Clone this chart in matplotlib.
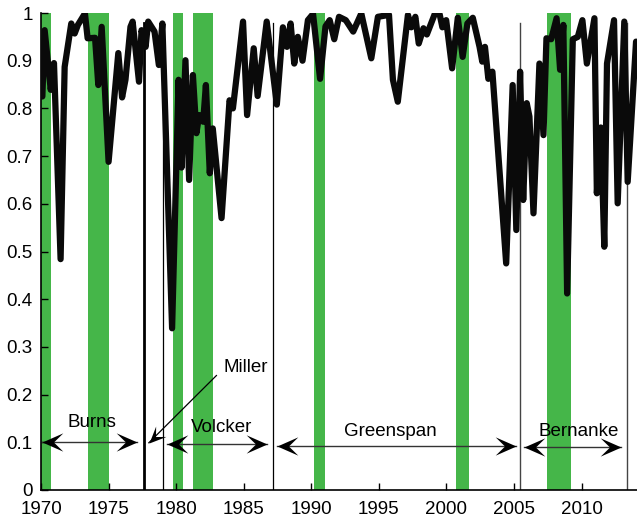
import numpy as np
import matplotlib
matplotlib.use("Agg")
import matplotlib.pyplot as plt
from matplotlib.path import Path
from matplotlib.markers import MarkerStyle
from matplotlib.transforms import Affine2D

plt.rcParams['font.family'] = ['Liberation Sans', 'DejaVu Sans']

# ---------------- data ----------------
years = [1970.00, 1970.10, 1970.27, 1970.72, 1970.96, 1971.45, 1971.75, 1972.24, 1972.49, 1972.73,
         1973.25, 1973.45, 1974.00, 1974.24, 1974.49, 1975.00, 1975.72, 1976.00, 1976.25, 1976.62,
         1976.78, 1977.25, 1977.44, 1977.74, 1977.93, 1978.40, 1978.72, 1978.98, 1979.70, 1980.18,
         1980.40, 1980.69, 1980.96, 1981.24, 1981.50, 1981.70, 1982.00, 1982.20, 1982.49, 1982.71,
         1983.36, 1983.95, 1984.20, 1984.95, 1985.25, 1985.74, 1986.03, 1986.70, 1987.45, 1987.90,
         1988.20, 1988.47, 1988.74, 1989.00, 1989.35, 1989.75, 1990.13, 1990.65, 1991.05, 1991.36,
         1991.70, 1992.05, 1992.55, 1993.10, 1993.70, 1994.44, 1994.93, 1995.75, 1996.04, 1996.40,
         1997.15, 1997.40, 1997.70, 1997.95, 1998.30, 1998.55, 1999.15, 1999.50, 1999.70, 1999.98,
         2000.42, 2000.84, 2001.20, 2001.55, 2001.95, 2002.45, 2002.65, 2002.85, 2003.10, 2003.40,
         2004.42, 2004.90, 2005.17, 2005.45, 2005.68, 2005.94, 2006.14, 2006.44, 2006.88, 2007.18,
         2007.40, 2007.75, 2008.15, 2008.41, 2008.65, 2008.93, 2009.35, 2009.72, 2010.06, 2010.39,
         2010.95, 2011.13, 2011.42, 2011.68, 2011.88, 2012.40, 2012.67, 2013.16, 2013.41, 2014.03]
values = [0.825, 0.825, 0.964, 0.839, 0.895, 0.484, 0.887, 0.978, 0.957, 0.975,
          0.999, 0.947, 0.948, 0.849, 0.971, 0.688, 0.916, 0.823, 0.860, 0.971,
          0.982, 0.856, 0.964, 0.929, 0.982, 0.961, 0.891, 0.978, 0.339, 0.860,
          0.676, 0.901, 0.650, 0.870, 0.748, 0.786, 0.772, 0.849, 0.664, 0.758,
          0.570, 0.817, 0.800, 0.982, 0.786, 0.926, 0.826, 0.982, 0.808, 0.970,
          0.929, 0.978, 0.894, 0.950, 0.900, 0.985, 0.998, 0.862, 0.972, 0.985,
          0.945, 0.992, 0.985, 0.961, 0.999, 0.905, 0.992, 0.996, 0.860, 0.814,
          0.996, 0.970, 0.992, 0.936, 0.968, 0.955, 0.999, 0.997, 0.970, 0.985,
          0.884, 0.990, 0.908, 0.978, 0.990, 0.929, 0.898, 0.929, 0.862, 0.877,
          0.475, 0.849, 0.545, 0.877, 0.608, 0.811, 0.783, 0.580, 0.894, 0.744,
          0.947, 0.945, 0.989, 0.881, 0.975, 0.412, 0.945, 0.950, 0.985, 0.894,
          0.989, 0.622, 0.760, 0.510, 0.894, 0.985, 0.601, 0.982, 0.646, 0.940]

recession_start = [1970.00, 1973.50, 1979.77, 1981.26, 1990.20, 2000.72, 2007.43]
recession_end = [1970.75, 1975.02, 1980.51, 1982.74, 1991.00, 2001.70, 2009.20]

chair_change = [1977.60, 1979.04, 1987.20, 2005.45, 2013.36]
chair_line_width = [2.0, 0.9, 0.9, 1.0, 1.0]
chair_line_color = ['#000000', '#000000', '#000000', '#444444', '#444444']
chair_line_top = 0.98

chair_names = ['Burns', 'Volcker', 'Greenspan', 'Bernanke']
chair_arrow_from = [1970.10, 1979.36, 1987.49, 2005.77]
chair_arrow_to = [1977.07, 1986.75, 2005.15, 2012.92]
chair_arrow_y = [0.101, 0.0957, 0.093, 0.091]
chair_label_x = [1973.77, 1983.35, 1995.85, 2009.78]
chair_label_y = [0.133, 0.121, 0.114, 0.114]

miller_label = 'Miller'
miller_label_xy = (1985.15, 0.247)
miller_arrow_from = (1982.98, 0.240)
miller_arrow_to = (1977.98, 0.099)

xticks = [1970, 1975, 1980, 1985, 1990, 1995, 2000, 2005, 2010]
yticks = [0, 0.1, 0.2, 0.3, 0.4, 0.5, 0.6, 0.7, 0.8, 0.9, 1.0]
ytick_labels = ['0', '0.1', '0.2', '0.3', '0.4', '0.5', '0.6', '0.7', '0.8', '0.9', '1']

# ---------------- figure ----------------
W, H = 637, 522
fig = plt.figure(figsize=(W / 100, H / 100), dpi=100)
ax = fig.add_axes([41 / W, (H - 490) / H, (W - 41) / W, (490 - 13) / H])
ax.set_xlim(1970, 2014.1)
ax.set_ylim(0, 1)

green = '#45b649'
for s, e in zip(recession_start, recession_end):
    ax.axvspan(s, e, color=green, lw=0, zorder=1)

for x, lw, c in zip(chair_change, chair_line_width, chair_line_color):
    ax.plot([x, x], [0, chair_line_top], color=c, lw=lw, zorder=2)

ax.plot(years, values, color='#0a0a0a', lw=4.5, solid_joinstyle='round',
        solid_capstyle='round', zorder=3)

# notched arrow head marker
def head_marker(angle_deg):
    verts = [(0, 0), (-1, 0.44), (-0.55, 0), (-1, -0.44), (0, 0)]
    codes = [Path.MOVETO, Path.LINETO, Path.LINETO, Path.LINETO, Path.CLOSEPOLY]
    return MarkerStyle(Path(verts, codes), transform=Affine2D().rotate_deg(angle_deg))

for x0, x1, y in zip(chair_arrow_from, chair_arrow_to, chair_arrow_y):
    ax.plot([x0, x1], [y, y], color='#333333', lw=1.0, zorder=4)
    ax.plot([x1], [y], marker=head_marker(0), ms=30, color='black', mec='none', zorder=5)
    ax.plot([x0], [y], marker=head_marker(180), ms=30, color='black', mec='none', zorder=5)

for name, x, y in zip(chair_names, chair_label_x, chair_label_y):
    ax.text(x, y, name, ha='center', va='baseline', fontsize=13.5, zorder=6)

# Miller arrow
ax.plot([miller_arrow_from[0], miller_arrow_to[0]], [miller_arrow_from[1], miller_arrow_to[1]],
        color='black', lw=0.9, zorder=4)
p0 = ax.transData.transform(miller_arrow_from)
p1 = ax.transData.transform(miller_arrow_to)
ang = np.degrees(np.arctan2(p1[1] - p0[1], p1[0] - p0[0]))
ax.plot([miller_arrow_to[0]], [miller_arrow_to[1]], marker=head_marker(ang), ms=24,
        color='black', mec='none', zorder=5)
ax.text(miller_label_xy[0], miller_label_xy[1], miller_label, ha='center', va='baseline',
        fontsize=13.5, zorder=6)

# axes styling
for side in ['top', 'right']:
    ax.spines[side].set_visible(False)
for side in ['left', 'bottom']:
    ax.spines[side].set_linewidth(1.2)
ax.set_xticks(xticks)
ax.set_xticklabels([str(t) for t in xticks])
ax.set_yticks(yticks)
ax.set_yticklabels(ytick_labels)
ax.tick_params(direction='in', length=5, width=1, labelsize=13.5, colors='black')
ax.tick_params(axis='x', pad=8)
ax.tick_params(axis='y', pad=6)

fig.savefig('out.png', dpi=100)
